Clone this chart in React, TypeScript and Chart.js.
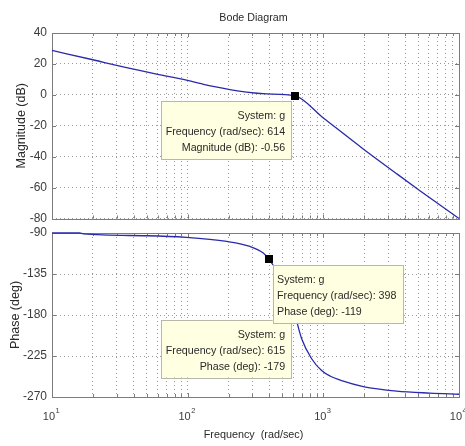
import React, { useEffect, useRef } from 'react';
import { Chart, registerables } from 'chart.js';

Chart.register(...registerables);

// ---------- data ----------
const magFreq = [10, 20, 30, 59, 98, 123, 154, 272, 382, 614, 1000, 1968, 3470, 5150, 10000];
const magDb = [28.7, 22.7, 19.0, 13.4, 9.5, 7.4, 5.4, 1.7, 0.6, -0.56, -15, -35, -51, -62, -80];

const phaseFreq = [10, 16, 17, 50, 98, 194, 288, 361, 398, 450, 500, 560, 615, 692, 820, 971, 1120, 1365, 1968, 3470, 6100, 10000];
const phaseDeg = [-90, -90, -91, -93, -94.8, -99.3, -104.8, -112, -119, -131, -145, -162, -179, -206, -228, -241, -247, -252, -258.5, -263.5, -265.7, -267];

const xDecades = [10, 100, 1000, 10000];
const xDecadeBase = ['10', '10', '10', '10'];
const xDecadeExp = ['1', '2', '3', '4'];

const magTicks = [40, 20, 0, -20, -40, -60, -80];
const phaseTicks = [-90, -135, -180, -225, -270];

const titleText = 'Bode Diagram';
const magLabel = 'Magnitude (dB)';
const phaseLabel = 'Phase (deg)';
const freqLabel = 'Frequency  (rad/sec)';

// data tips
const magTipFreq = [614];
const magTipValue = [-0.56];
const magTipLines = [['System: g', 'Frequency (rad/sec): 614', 'Magnitude (dB): -0.56']];
const magTipSide = ['left'];

const phaseTipFreq = [615, 398];
const phaseTipValue = [-179, -119];
const phaseTipLines = [
  ['System: g', 'Frequency (rad/sec): 615', 'Phase (deg): -179'],
  ['System: g', 'Frequency (rad/sec): 398', 'Phase (deg): -119'],
];
const phaseTipSide = ['left', 'right'];

// ---------- styles ----------
const FONT = '"Liberation Sans", Arial, Helvetica, sans-serif';
const LINE_COLOR = '#2a2aaa';
const AXIS_COLOR = '#7c7c7c';
const GRID_COLOR = '#9a9a9a';
const TEXT_COLOR = '#2a2a2a';
const TICK_COLOR = '#3c3c3c';

function logTicks(min: number, max: number) {
  const out: number[] = [];
  for (let d = min; d < max; d *= 10) {
    for (let m = 1; m < 10; m++) out.push(d * m);
  }
  out.push(max);
  return out;
}

function drawBoxAndTicks(chart: any) {
  const { ctx, chartArea: a } = chart;
  const xs = chart.scales.x;
  const ys = chart.scales.y;
  ctx.save();
  ctx.strokeStyle = AXIS_COLOR;
  ctx.lineWidth = 1;
  ctx.strokeRect(Math.round(a.left) + 0.5, Math.round(a.top) + 0.5, Math.round(a.right - a.left), Math.round(a.bottom - a.top));
  ctx.beginPath();
  xs.ticks.forEach((t: any) => {
    const isMajor = xDecades.includes(t.value);
    const len = isMajor ? 4 : 3;
    const px = Math.round(xs.getPixelForValue(t.value)) + 0.5;
    ctx.moveTo(px, a.bottom);
    ctx.lineTo(px, a.bottom - len);
    ctx.moveTo(px, a.top);
    ctx.lineTo(px, a.top + len);
  });
  ys.ticks.forEach((t: any) => {
    const py = Math.round(ys.getPixelForValue(t.value)) + 0.5;
    ctx.moveTo(a.left, py);
    ctx.lineTo(a.left + 4, py);
    ctx.moveTo(a.right, py);
    ctx.lineTo(a.right - 4, py);
  });
  ctx.stroke();
  ctx.restore();
}

function drawYLabel(chart: any, text: string, cx: number) {
  const { ctx, chartArea: a } = chart;
  ctx.save();
  ctx.translate(cx, (a.top + a.bottom) / 2);
  ctx.rotate(-Math.PI / 2);
  ctx.font = `12.5px ${FONT}`;
  ctx.fillStyle = TEXT_COLOR;
  ctx.textAlign = 'center';
  ctx.textBaseline = 'middle';
  ctx.fillText(text, 0, 0);
  ctx.restore();
}

function drawTip(chart: any, freq: number, value: number, lines: string[], side: string) {
  const { ctx } = chart;
  const xs = chart.scales.x;
  const ys = chart.scales.y;
  const px = xs.getPixelForValue(freq);
  const py = ys.getPixelForValue(value);
  ctx.save();
  ctx.font = `10.7px ${FONT}`;
  const w = Math.max(...lines.map((l) => ctx.measureText(l).width)) + 11;
  const h = 58;
  const left = side === 'left' ? px - 3 - w : px + 3.5;
  const top = py + 5.5;
  ctx.fillStyle = '#ffffe1';
  ctx.fillRect(left, top, w, h);
  ctx.strokeStyle = '#b8b8a8';
  ctx.lineWidth = 1;
  ctx.strokeRect(Math.round(left) + 0.5, Math.round(top) + 0.5, Math.round(w), Math.round(h));
  ctx.fillStyle = TEXT_COLOR;
  ctx.textBaseline = 'middle';
  lines.forEach((l, i) => {
    const y = top + 15 + i * 16;
    if (side === 'left') {
      ctx.textAlign = 'right';
      ctx.fillText(l, left + w - 6.5, y);
    } else {
      ctx.textAlign = 'left';
      ctx.fillText(l, left + 4.5, y);
    }
  });
  ctx.restore();
}

function drawMarker(chart: any, freq: number, value: number) {
  const { ctx } = chart;
  const px = chart.scales.x.getPixelForValue(freq);
  const py = chart.scales.y.getPixelForValue(value);
  ctx.save();
  ctx.fillStyle = '#000000';
  ctx.fillRect(Math.round(px - 4), Math.round(py - 4), 8, 8);
  ctx.restore();
}

function baseOptions(yMin: number, yMax: number, yTicks: number[], padding: any) {
  return {
    responsive: false,
    animation: false as const,
    layout: { padding },
    plugins: { legend: { display: false }, tooltip: { enabled: false }, title: { display: false } },
    elements: { point: { radius: 0 } },
    scales: {
      x: {
        type: 'logarithmic' as const,
        min: 10,
        max: 10000,
        afterBuildTicks: (scale: any) => {
          scale.ticks = logTicks(10, 10000).map((v) => ({ value: v }));
        },
        afterFit: (scale: any) => {
          scale.height = 0;
          scale.paddingLeft = 0;
          scale.paddingRight = 0;
        },
        ticks: { display: false },
        grid: { color: GRID_COLOR, lineWidth: 1, drawTicks: false },
        border: { display: false, dash: [1, 3] },
      },
      y: {
        type: 'linear' as const,
        min: yMin,
        max: yMax,
        afterBuildTicks: (scale: any) => {
          scale.ticks = yTicks.map((v) => ({ value: v }));
        },
        afterFit: (scale: any) => {
          scale.width = 52;
          scale.paddingTop = 0;
          scale.paddingBottom = 0;
        },
        ticks: {
          font: { family: FONT, size: 12 },
          color: TICK_COLOR,
          padding: 5,
          callback: (v: any) => String(v),
        },
        grid: { color: GRID_COLOR, lineWidth: 1, drawTicks: false },
        border: { display: false, dash: [1, 3] },
      },
    },
  };
}

export default function App() {
  const magRef = useRef<HTMLCanvasElement>(null);
  const phaseRef = useRef<HTMLCanvasElement>(null);

  useEffect(() => {
    const magPlugin = {
      id: 'magDecor',
      beforeDatasetsDraw(chart: any) {
        drawBoxAndTicks(chart);
      },
      afterDraw(chart: any) {
        const { ctx, chartArea: a } = chart;
        ctx.save();
        ctx.font = `10.7px ${FONT}`;
        ctx.fillStyle = TEXT_COLOR;
        ctx.textAlign = 'center';
        ctx.textBaseline = 'middle';
        ctx.fillText(titleText, (a.left + a.right) / 2 - 2, 18);
        ctx.restore();
        drawYLabel(chart, magLabel, 21.5);
        magTipFreq.forEach((f, i) => {
          drawTip(chart, f, magTipValue[i], magTipLines[i], magTipSide[i]);
          drawMarker(chart, f, magTipValue[i]);
        });
      },
    };
    const phasePlugin = {
      id: 'phaseDecor',
      beforeDatasetsDraw(chart: any) {
        drawBoxAndTicks(chart);
      },
      afterDraw(chart: any) {
        const { ctx, chartArea: a } = chart;
        const xs = chart.scales.x;
        drawYLabel(chart, phaseLabel, 15.5);
        phaseTipFreq.forEach((f, i) => {
          drawMarker(chart, f, phaseTipValue[i]);
          drawTip(chart, f, phaseTipValue[i], phaseTipLines[i], phaseTipSide[i]);
        });
        ctx.save();
        ctx.fillStyle = TICK_COLOR;
        ctx.textBaseline = 'middle';
        xDecades.forEach((v, i) => {
          const px = xs.getPixelForValue(v);
          ctx.font = `11px ${FONT}`;
          const bw = ctx.measureText(xDecadeBase[i]).width;
          ctx.font = `7.5px ${FONT}`;
          const ew = ctx.measureText(xDecadeExp[i]).width;
          const start = px - (bw + ew) / 2 - 1;
          ctx.font = `11px ${FONT}`;
          ctx.textAlign = 'left';
          ctx.fillText(xDecadeBase[i], start, a.bottom + 19.5);
          ctx.font = `7.5px ${FONT}`;
          ctx.fillText(xDecadeExp[i], start + bw + 0.5, a.bottom + 13.5);
        });
        ctx.font = `10.8px ${FONT}`;
        ctx.fillStyle = TEXT_COLOR;
        ctx.textAlign = 'center';
        ctx.fillText(freqLabel, (a.left + a.right) / 2 - 2, a.bottom + 38);
        ctx.restore();
      },
    };

    const magChart = new Chart(magRef.current as HTMLCanvasElement, {
      type: 'line',
      data: {
        datasets: [
          {
            data: magFreq.map((f, i) => ({ x: f, y: magDb[i] })),
            borderColor: LINE_COLOR,
            borderWidth: 1.3,
            pointRadius: 0,
            cubicInterpolationMode: 'monotone',
            fill: false,
            clip: 3,
          },
        ],
      },
      options: baseOptions(-80, 40, magTicks, { top: 33, right: 6, bottom: 7.5, left: 0 }) as any,
      plugins: [magPlugin],
    });

    const phaseChart = new Chart(phaseRef.current as HTMLCanvasElement, {
      type: 'line',
      data: {
        datasets: [
          {
            data: phaseFreq.map((f, i) => ({ x: f, y: phaseDeg[i] })),
            borderColor: LINE_COLOR,
            borderWidth: 1.3,
            pointRadius: 0,
            cubicInterpolationMode: 'monotone',
            fill: false,
            clip: 3,
          },
        ],
      },
      options: baseOptions(-270, -90, phaseTicks, { top: 7, right: 6, bottom: 49, left: 0 }) as any,
      plugins: [phasePlugin],
    });

    return () => {
      magChart.destroy();
      phaseChart.destroy();
    };
  }, []);

  return (
    <div style={{ position: 'fixed', left: 0, top: 0, width: 465, height: 446, background: '#ffffff', overflow: 'hidden' }}>
      <canvas ref={magRef} width={465} height={226} style={{ position: 'absolute', left: 0, top: 0, width: 465, height: 226 }} />
      <canvas ref={phaseRef} width={465} height={220} style={{ position: 'absolute', left: 0, top: 226, width: 465, height: 220 }} />
    </div>
  );
}
